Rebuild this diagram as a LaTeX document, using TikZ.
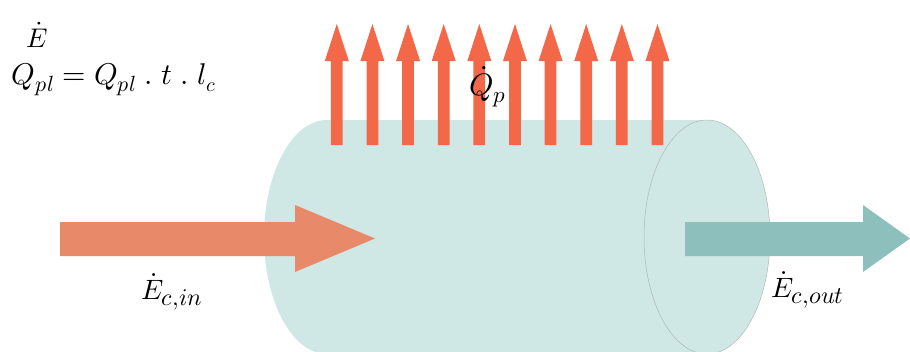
\documentclass[tikz,border=0pt]{standalone}
\usepackage{unicode-math}
\setmathfont{Latin Modern Math}
\definecolor{cylfill}{HTML}{CFE8E5}
\definecolor{cyledge}{HTML}{B0B8B7}
\definecolor{heatred}{HTML}{F26849}
\definecolor{inorange}{HTML}{E8896A}
\definecolor{outteal}{HTML}{8DC0BD}
\newcommand\mysub[2]{_{\hbox{\fontsize{#1}{#1}\selectfont$#2$}}}
\tikzset{
  lbl/.style={inner sep=0pt, outer sep=0pt, anchor=base west, text=black},
  cylbody/.style={fill=cylfill, draw=none},
  heatarrow/.style={fill=heatred, draw=none},
  inarrow/.style={fill=inorange, draw=none},
  outarrow/.style={fill=outteal, draw=none}
}
\begin{document}
\begin{tikzpicture}[x=1pt,y=-1pt]
\useasboundingbox (0,0) rectangle (910,351);
\begin{scope}
\clip (0,0) rectangle (910,351);
% cylinder body
\fill[cylbody] (327,237) ellipse [x radius=63, y radius=117];
\fill[cylbody] (327,120) rectangle (707,354);
\filldraw[cylbody, draw=cyledge, line width=0.5pt] (707,237) ellipse [x radius=63, y radius=117];
% inflow arrow
\fill[inarrow] (60,222) -- (295,222) -- (295,205) -- (375,238.5) -- (295,272) -- (295,256) -- (60,256) -- cycle;
% outflow arrow
\fill[outarrow] (685,222) -- (863,222) -- (863,205) -- (910,238.5) -- (863,272) -- (863,256) -- (685,256) -- cycle;
% heat arrows
\foreach \i in {0,...,9}{
  \pgfmathsetmacro{\cx}{336.8+35.63*\i}
  \fill[heatarrow] (\cx-5.9,145) -- (\cx-5.9,61) -- (\cx-12,61) -- (\cx,24) -- (\cx+12,61) -- (\cx+5.9,61) -- (\cx+5.9,145) -- cycle;
}
\end{scope}
% labels
\node[lbl] (edot) at (26,47) {\fontsize{27}{30}\selectfont $\dot{E}$};
\node[lbl] (eq) at (12,84) {\fontsize{30}{34}\selectfont $Q\mysub{22}{pl}=Q\mysub{22}{pl}\;.\;t\;.\;l\mysub{20}{c}$};
\node[lbl] (qp) at (469,95) {\fontsize{31}{34}\selectfont $\dot{Q}\mysub{23}{p}$};
\node[lbl] (ein) at (141,299) {\fontsize{28}{32}\selectfont $\dot{E}\mysub{24}{c{,}in}$};
\node[lbl] (eout) at (771,297) {\fontsize{28}{32}\selectfont $\dot{E}\mysub{24}{c{,}out}$};
\end{tikzpicture}
\end{document}
